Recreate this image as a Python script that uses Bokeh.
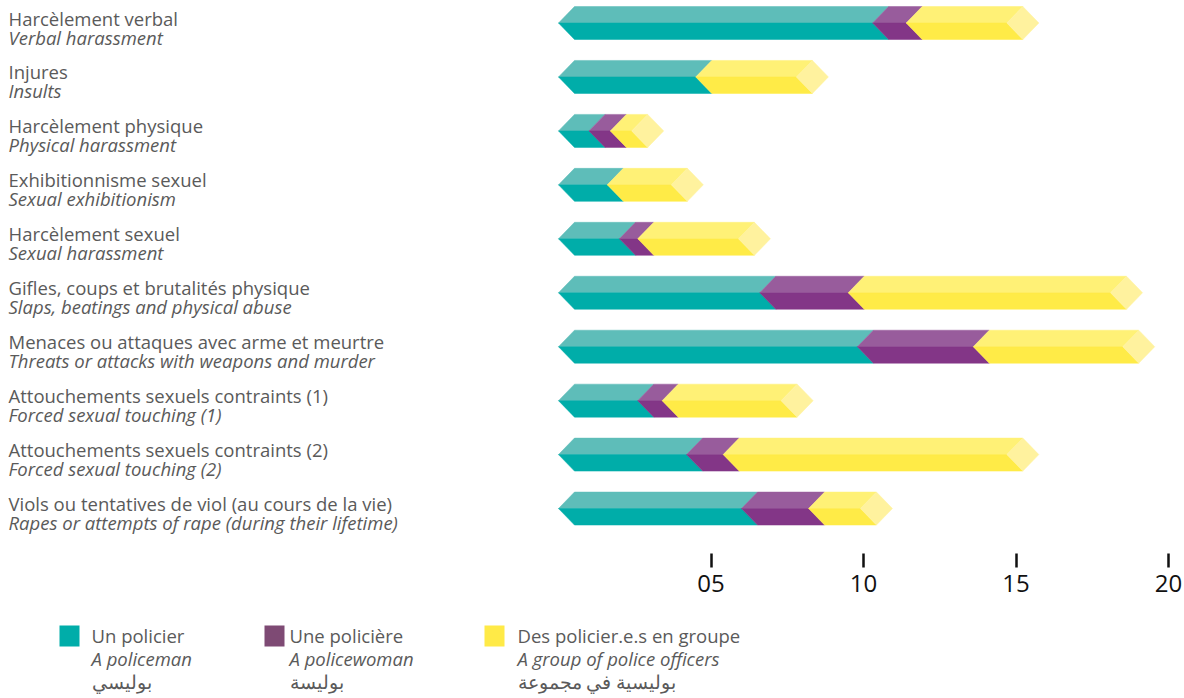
from bokeh.plotting import figure
from bokeh.models import Range1d, LinearAxis, FixedTicker, Grid
from bokeh.layouts import column
from bokeh.core.properties import value
from bokeh.embed import file_html
from bokeh.resources import INLINE

# ---------------- data ----------------
categories_fr = [
    "Harcèlement verbal",
    "Injures",
    "Harcèlement physique",
    "Exhibitionnisme sexuel",
    "Harcèlement sexuel",
    "Gifles, coups et brutalités physique",
    "Menaces ou attaques avec arme et meurtre",
    "Attouchements sexuels contraints (1)",
    "Attouchements sexuels contraints (2)",
    "Viols ou tentatives de viol (au cours de la vie)",
]
categories_en = [
    "Verbal harassment",
    "Insults",
    "Physical harassment",
    "Sexual exhibitionism",
    "Sexual harassment",
    "Slaps, beatings and physical abuse",
    "Threats or attacks with weapons and murder",
    "Forced sexual touching (1)",
    "Forced sexual touching (2)",
    "Rapes or attempts of rape (during their lifetime)",
]
un_policier = [10.3, 4.5, 1.0, 1.6, 2.0, 6.6, 9.8, 2.6, 4.2, 6.0]
une_policiere = [1.1, 0.0, 0.7, 0.0, 0.6, 2.9, 3.8, 0.8, 1.2, 2.2]
en_groupe = [3.3, 3.3, 0.7, 2.1, 3.3, 8.6, 4.9, 3.9, 9.3, 1.7]

tick_values = [5, 10, 15, 20]
tick_labels = ["05", "10", "15", "20"]

legend_fr = ["Un policier", "Une policière", "Des policier.e.s en groupe"]
legend_en = ["A policeman", "A policewoman", "A group of police officers"]
legend_ar = ["بوليسي", "بوليسة", "بوليسية في مجموعة"]

# ---------------- styles / layout ----------------
LIGHT = ["#5EBDB9", "#985C9C", "#FFF176"]
DARK = ["#00ADA9", "#833687", "#FFEB47"]
CAP = "#FFF29E"
LEGEND_COLORS = ["#00ADA9", "#7E4A74", "#FFEA47"]
TEXT_COLOR = "#5a5a5a"
FONT = "Open Sans"
FS = "18.5px"

W = 1184
H1 = 610
FRAME_H = 553
PX = 30.5          # pixels per unit
X0 = 558           # pixel of value 0
ROW_TOP = 22.5     # pixel centre of first row
ROW_STEP = 53.95   # pixels between rows
HALF_H = 16.5 / ROW_STEP
TIP = 16 / PX

p = figure(
    width=W, height=H1,
    x_range=Range1d(-X0 / PX, (W - X0) / PX),
    y_range=Range1d((FRAME_H - ROW_TOP) / ROW_STEP, -ROW_TOP / ROW_STEP),
    output_backend="svg", toolbar_location=None,
    x_axis_location=None, y_axis_location=None,
    min_border_left=0, min_border_right=0, min_border_top=0,
    min_border_bottom=H1 - FRAME_H,
)
p.outline_line_color = None
p.background_fill_color = "white"
p.border_fill_color = "white"
for r in list(p.center):
    if isinstance(r, Grid):
        r.visible = False

series = [un_policier, une_policiere, en_groupe]
top_xs = [[], [], []]
top_ys = [[], [], []]
bot_xs = [[], [], []]
bot_ys = [[], [], []]
cap_xs, cap_ys = [], []
for i in range(len(categories_fr)):
    cum = 0.0
    for k, vals in enumerate(series):
        v = vals[i]
        if v <= 0:
            continue
        x0, x1 = cum, cum + v
        top_xs[k].append([x0, x0 + TIP, x1 + TIP, x1])
        top_ys[k].append([i, i - HALF_H, i - HALF_H, i])
        bot_xs[k].append([x0, x0 + TIP, x1 + TIP, x1])
        bot_ys[k].append([i, i + HALF_H, i + HALF_H, i])
        cum = x1
    cap_xs.append([cum, cum + TIP, cum + 2 * TIP, cum + TIP])
    cap_ys.append([i, i - HALF_H, i, i + HALF_H])

for k in range(3):
    p.patches(top_xs[k], top_ys[k], fill_color=LIGHT[k], line_color=LIGHT[k], line_width=0.5)
    p.patches(bot_xs[k], bot_ys[k], fill_color=DARK[k], line_color=DARK[k], line_width=0.5)
p.patches(cap_xs, cap_ys, fill_color=CAP, line_color=CAP, line_width=0.5)

rows = list(range(len(categories_fr)))
label_x = (8 - X0) / PX
p.text(x=[label_x] * len(rows), y=[r - 5.0 / ROW_STEP for r in rows], text=categories_fr,
       text_font=value(FONT), text_font_size=FS, text_color=TEXT_COLOR,
       text_baseline="alphabetic", text_align="left")
p.text(x=[label_x] * len(rows), y=[r + 14.0 / ROW_STEP for r in rows], text=categories_en,
       text_font=value(FONT), text_font_size=FS, text_color=TEXT_COLOR,
       text_font_style="italic", text_baseline="alphabetic", text_align="left")

ax = LinearAxis(
    ticker=FixedTicker(ticks=tick_values),
    major_label_overrides={t: l for t, l in zip(tick_values, tick_labels)},
    axis_line_color=None,
    major_tick_in=0, major_tick_out=14,
    major_tick_line_color="#111111", major_tick_line_width=2.5,
    minor_tick_line_color=None,
    major_label_text_font=FONT, major_label_text_font_size="24px",
    major_label_text_color="#111111", major_label_standoff=7,
)
p.add_layout(ax, "below")

# ---------------- legend figure ----------------
H2 = 698 - H1
p2 = figure(
    width=W, height=H2,
    x_range=Range1d(0, W), y_range=Range1d(H2, 0),
    output_backend="svg", toolbar_location=None,
    x_axis_location=None, y_axis_location=None,
    min_border_left=0, min_border_right=0, min_border_top=0, min_border_bottom=0,
)
p2.outline_line_color = None
p2.background_fill_color = "white"
p2.border_fill_color = "white"
for r in list(p2.center):
    if isinstance(r, Grid):
        r.visible = False

sq_x = [59, 264, 484]
tx_x = [91, 289, 517]
p2.quad(left=sq_x, right=[x + 20 for x in sq_x], top=[15] * 3, bottom=[36] * 3,
        fill_color=LEGEND_COLORS, line_color=None)
p2.text(x=tx_x, y=[25] * 3, text=legend_fr, text_font=value(FONT), text_font_size=FS,
        text_color=TEXT_COLOR, text_baseline="alphabetic")
p2.text(x=tx_x, y=[48] * 3, text=legend_en, text_font=value(FONT), text_font_size=FS,
        text_font_style="italic", text_color=TEXT_COLOR, text_baseline="alphabetic")
p2.text(x=tx_x, y=[71] * 3, text=legend_ar, text_font=value(FONT), text_font_size=FS,
        text_color=TEXT_COLOR, text_baseline="alphabetic")

layout = column(p, p2, spacing=0)
open("out.html", "w").write(file_html(layout, INLINE))
